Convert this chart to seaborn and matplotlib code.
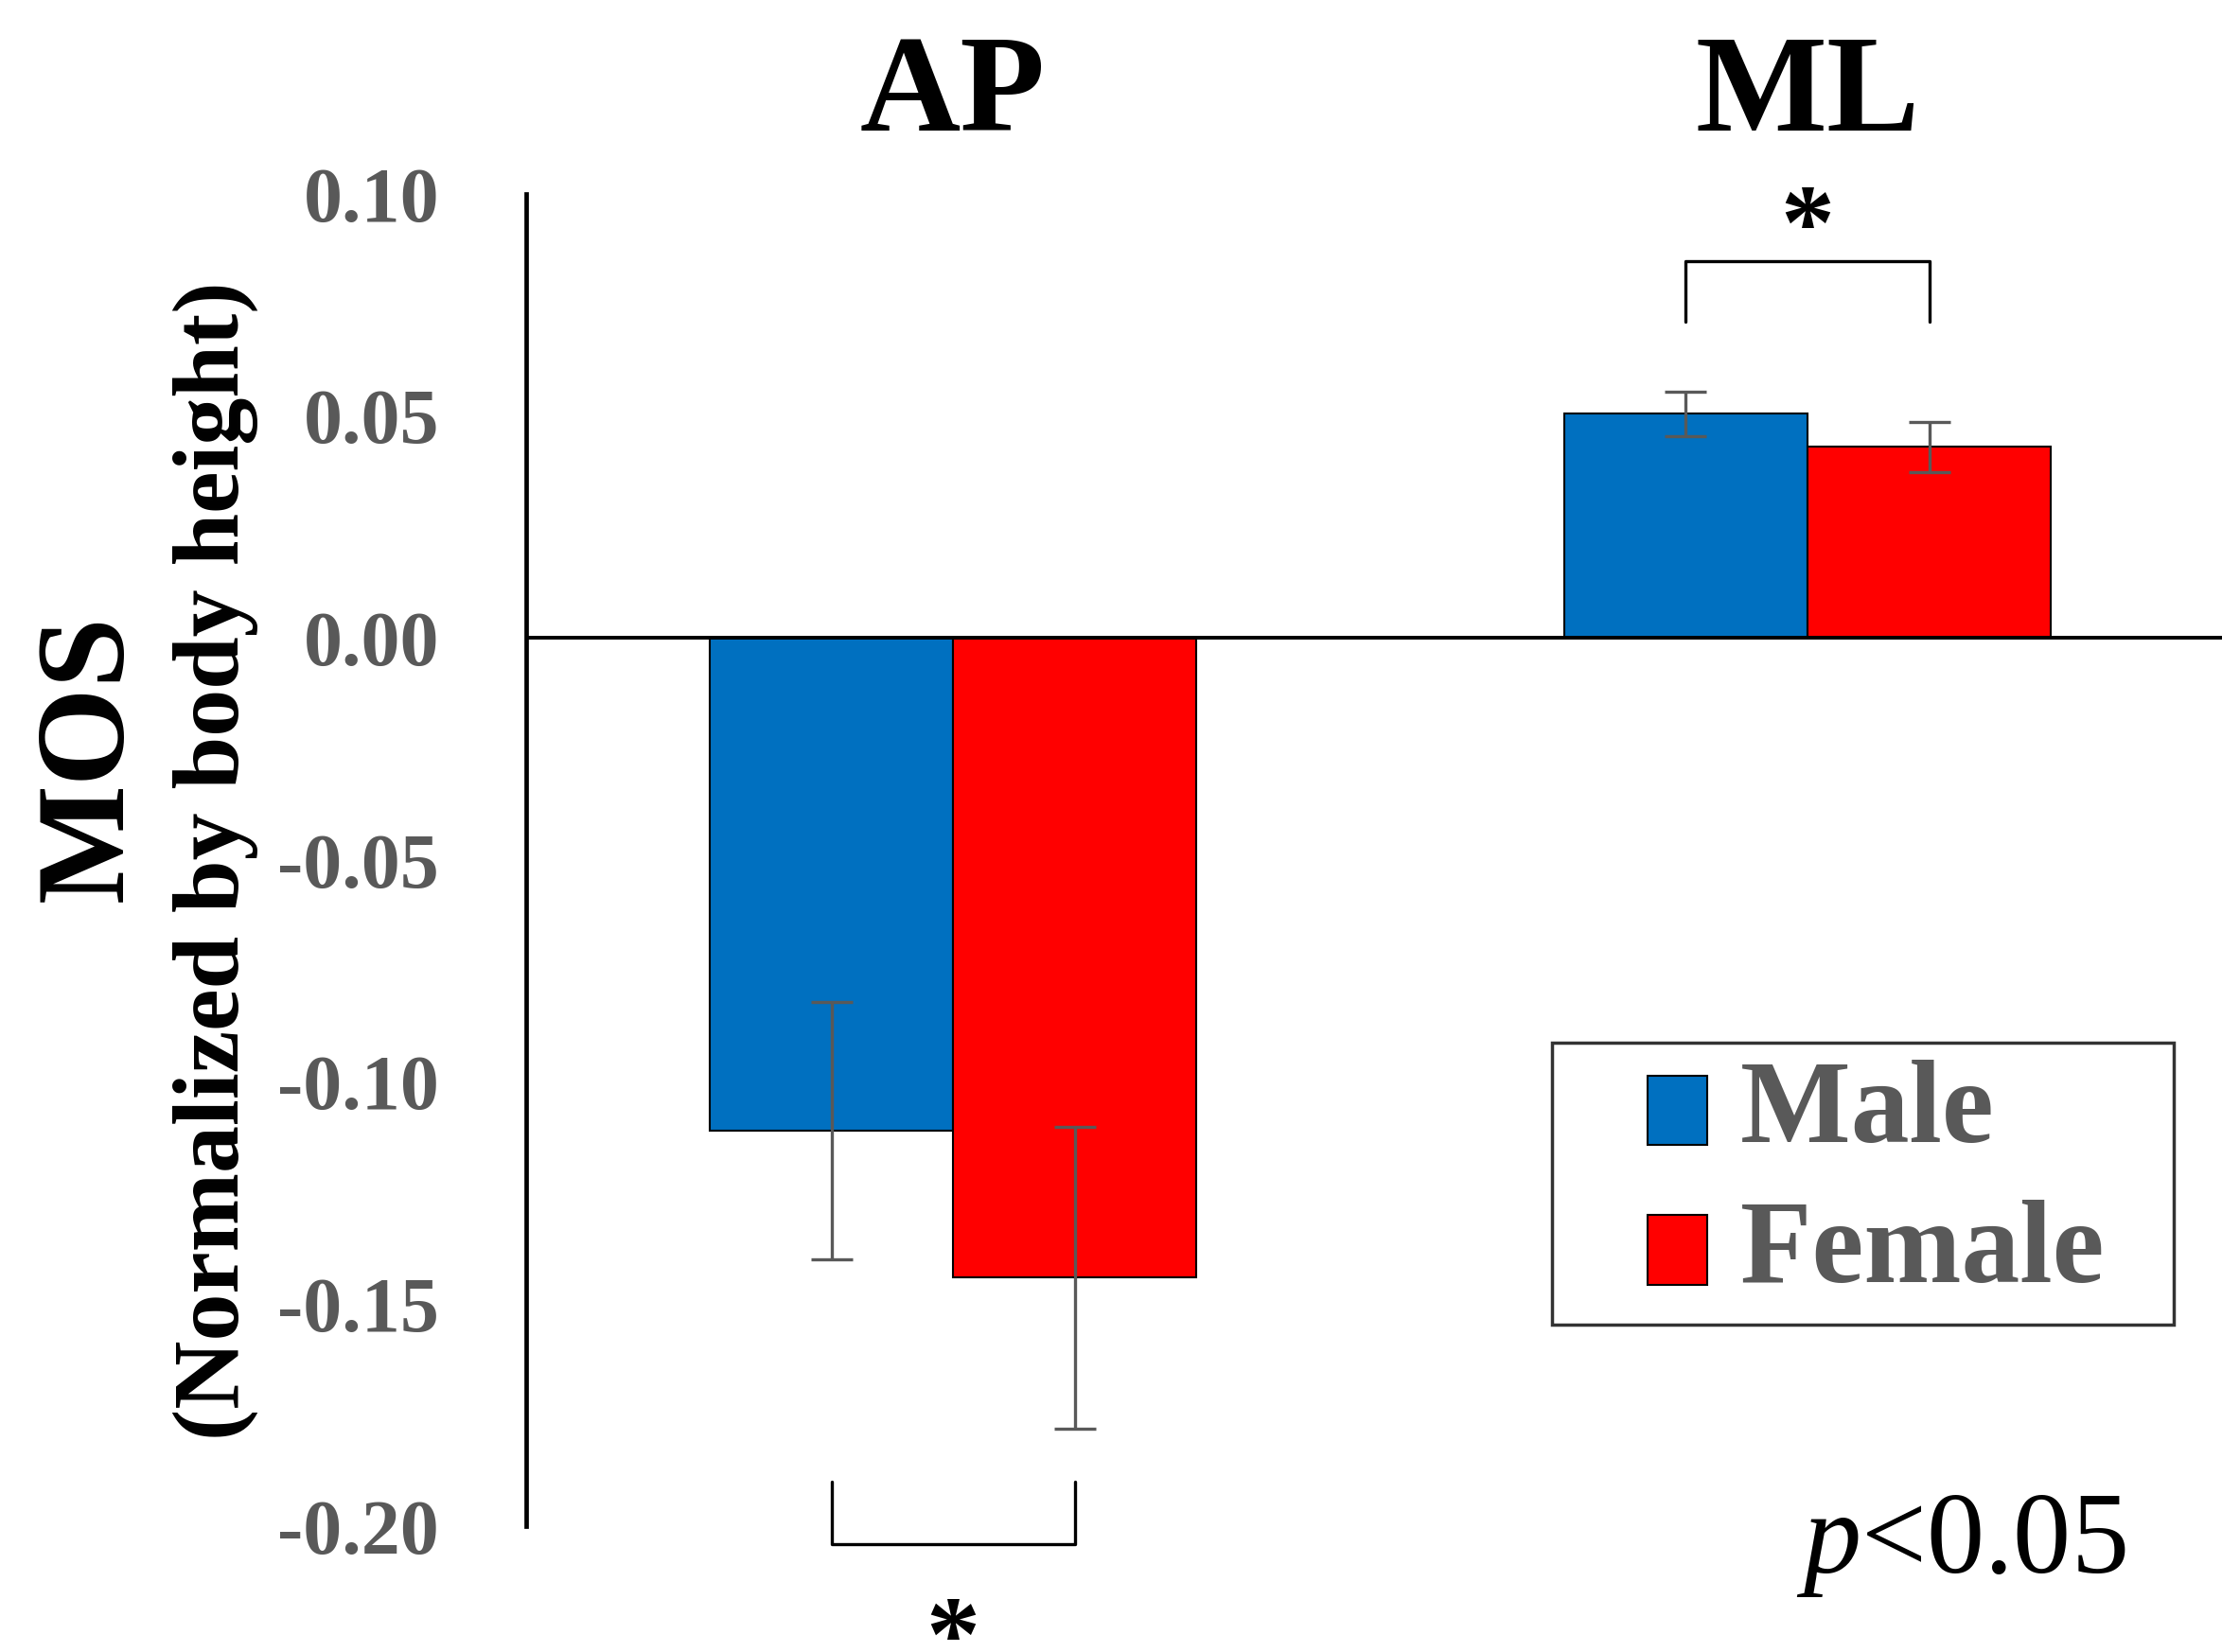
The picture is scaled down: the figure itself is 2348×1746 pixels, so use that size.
import numpy as np
import pandas as pd
import matplotlib
matplotlib.use('Agg')
import matplotlib.pyplot as plt
from matplotlib.patches import Rectangle
from matplotlib.legend_handler import HandlerPatch
import seaborn as sns

# data
directions = ['AP', 'ML']
sexes = ['Male', 'Female']
male_mean = [-0.111, 0.0505]
female_mean = [-0.144, 0.0430]
male_sd = [0.029, 0.0050]
female_sd = [0.034, 0.0056]
yticks = [-0.20, -0.15, -0.10, -0.05, 0.00, 0.05, 0.10]

colors = ['#0070C0', '#FF0000']
gray = '#595959'

sns.set_style('white')
plt.rcParams['font.family'] = ['Liberation Serif', 'DejaVu Serif']
plt.rcParams['text.color'] = 'black'
plt.rcParams['mathtext.fontset'] = 'custom'
plt.rcParams['mathtext.rm'] = 'Liberation Serif'
plt.rcParams['mathtext.it'] = 'Liberation Serif:italic'

df = pd.DataFrame({
    'direction': directions * 2,
    'sex': [sexes[0]] * 2 + [sexes[1]] * 2,
    'mean': male_mean + female_mean,
    'sd': male_sd + female_sd,
})

fig = plt.figure(figsize=(23.48, 17.46), dpi=100)
ax = fig.add_axes([0.2367, 0.0762, 0.769, 0.8064])

sns.barplot(data=df, x='direction', y='mean', hue='sex', hue_order=sexes,
            order=directions, palette=colors, saturation=1, width=0.57,
            errorbar=None, edgecolor='black', linewidth=1.5, ax=ax)

# error bars from the sd column, placed at each bar's centre
for sex, cont in zip(sexes, ax.containers):
    sub = df[df['sex'] == sex].set_index('direction').loc[directions]
    xs = [p.get_x() + p.get_width() / 2 for p in cont.patches]
    ax.errorbar(xs, sub['mean'].values, yerr=sub['sd'].values, fmt='none',
                ecolor=gray, elinewidth=2.4, capsize=16, capthick=2.4, zorder=5)

ax.set_xlim(-0.5, 1.5)
ax.set_ylim(-0.20, 0.10)
ax.set_yticks(yticks)
ax.set_yticklabels(['%.2f' % t for t in yticks], fontsize=59,
                   fontweight='bold', color=gray)
ax.tick_params(axis='y', length=0, pad=66)

ax.xaxis.tick_top()
ax.tick_params(axis='x', length=0, pad=26, labelcolor='black')
for lab in ax.get_xticklabels():
    lab.set_fontsize(106)
    lab.set_fontweight('bold')
ax.set_xlabel('')
ax.set_ylabel('')

for s in ['top', 'right', 'bottom']:
    ax.spines[s].set_visible(False)
ax.spines['left'].set_linewidth(3.4)
ax.spines['left'].set_color('black')
ax.axhline(0, color='black', lw=2.8, zorder=4)

# significance brackets between bar centres
c0 = [p.get_x() + p.get_width() / 2 for p in ax.containers[0].patches]
c1 = [p.get_x() + p.get_width() / 2 for p in ax.containers[1].patches]
ax.plot([c0[1], c0[1], c1[1], c1[1]], [0.0712, 0.0849, 0.0849, 0.0712],
        color='black', lw=2.4, clip_on=False)
ax.text((c0[1] + c1[1]) / 2, 0.0915, '*', fontsize=82, ha='center',
        va='center', fontweight='bold')
ax.plot([c0[0], c0[0], c1[0], c1[0]], [-0.190, -0.204, -0.204, -0.190],
        color='black', lw=2.4, clip_on=False)
ax.text((c0[0] + c1[0]) / 2, -0.2265, '*', fontsize=82, ha='center',
        va='center', fontweight='bold', clip_on=False)


def right_rect(legend, orig_handle, xdescent, ydescent, width, height, fontsize):
    w = 0.51 * fontsize
    return Rectangle((-xdescent + width - w, -ydescent - 0.08 * fontsize), w, height)


handles, labels = ax.get_legend_handles_labels()
labels = [l + ' \u2009' for l in labels]
leg = ax.legend(handles, labels, loc='lower right', bbox_to_anchor=(0.9645, 0.151),
                borderaxespad=0, frameon=True, fancybox=False,
                prop={'size': 89, 'weight': 'bold'}, handlelength=1.18,
                handleheight=0.54, handletextpad=0.28, labelspacing=0.27,
                borderpad=0.15,
                handler_map={Rectangle: HandlerPatch(patch_func=right_rect)})
leg.get_frame().set_edgecolor('black')
leg.get_frame().set_linewidth(2.5)
for t in leg.get_texts():
    t.set_color(gray)

fig.text(0.041, 0.541, 'MOS', rotation=90, fontsize=96, fontweight='bold',
         ha='center', va='center')
fig.text(0.097, 0.479, '(Normalized by body height)', rotation=90, fontsize=72,
         fontweight='bold', ha='center', va='center')
fig.text(0.9566, 0.048, r'$p$<0.05', fontsize=88, ha='right', va='baseline')

fig.savefig('out.png', dpi=100)
